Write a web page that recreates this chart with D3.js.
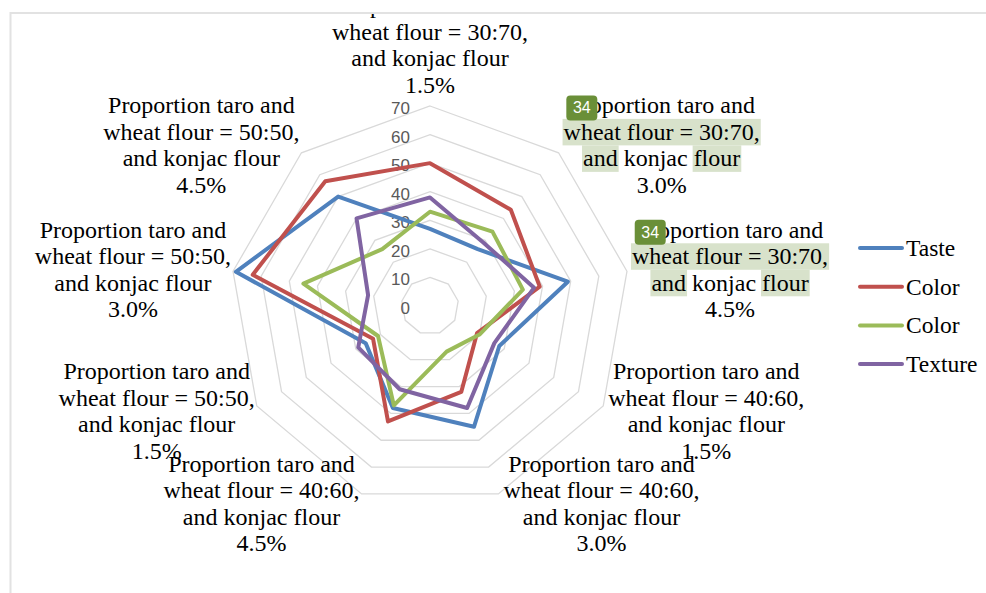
<!DOCTYPE html>
<html>
<head>
<meta charset="utf-8">
<script src="https://cdn.jsdelivr.net/npm/d3@7"></script>
<style>
  html, body { margin: 0; padding: 0; background: #fff; }
  svg { display: block; }
</style>
</head>
<body>
<div id="chart"></div>
<script>
// Chart data
const ratios = ["30:70", "30:70", "30:70", "40:60", "40:60", "40:60", "50:50", "50:50", "50:50"];
const konjac = ["1.5%", "3.0%", "4.5%", "1.5%", "3.0%", "4.5%", "1.5%", "3.0%", "4.5%"];
const seriesNames = ["Taste", "Color", "Color", "Texture"];
const taste   = [27, 26, 49, 28, 45, 38, 26, 69, 50];
const color1  = [50, 44, 39, 19, 32, 43, 23, 63, 57];
const color2  = [33, 34, 33, 20, 17, 37, 21, 45, 26];
const texture = [38, 29, 37, 26, 38, 31, 29, 22, 40];
const tickValues = [0, 10, 20, 30, 40, 50, 60, 70];
const markedCategories = [1, 2]; // labels carrying the green "34" marks
const markText = "34";

const seriesData = [taste, color1, color2, texture];
const seriesColors = ["#4f81bd", "#c0504d", "#9bbb59", "#8064a2"];

const categories = ratios.map((r, i) => [
    "Proportion taro and",
    `wheat flour = ${r},`,
    "and konjac flour",
    konjac[i]
]);

// Set up SVG container
const width = 986, height = 593;
const cx = 430, cy = 306, outerR = 200;
const serif = "'Liberation Serif', 'Times New Roman', serif";
const fontSize = 24, lineH = 26.5;

const svg = d3.select("#chart").append("svg")
    .attr("width", width)
    .attr("height", height);

svg.append("defs").append("clipPath").attr("id", "frame-clip")
    .append("rect").attr("x", 11).attr("y", 14).attr("width", width - 11).attr("height", height - 14);

// chart frame (top and left edges visible)
svg.append("path")
    .attr("d", `M10.5,${height} V13 H${width}`)
    .attr("fill", "none")
    .attr("stroke", "#e2e2e2")
    .attr("stroke-width", 2);

const root = svg.append("g").attr("clip-path", "url(#frame-clip)");

const rScale = d3.scaleLinear().domain([0, 70]).range([0, outerR]);
const angleStep = 2 * Math.PI / categories.length;

const plot = root.append("g").attr("transform", `translate(${cx},${cy})`);

// grid rings
const ringLine = d3.lineRadial()
    .angle((d, i) => i * angleStep)
    .radius(d => rScale(d))
    .curve(d3.curveLinearClosed);

plot.selectAll("path.ring")
    .data(tickValues.filter(v => v > 0))
    .join("path")
    .attr("class", "ring")
    .attr("d", v => ringLine(categories.map(() => v)))
    .attr("fill", "none")
    .attr("stroke", "#d9d9d9")
    .attr("stroke-width", 1.3);

// tick labels
plot.selectAll("text.tick")
    .data(tickValues)
    .join("text")
    .attr("class", "tick")
    .attr("x", -20)
    .attr("y", v => -rScale(v) + 8)
    .attr("text-anchor", "end")
    .attr("font-family", "'Liberation Sans', Arial, sans-serif")
    .attr("font-size", 17)
    .attr("fill", "#595959")
    .text(v => v);

// series lines
plot.selectAll("path.series")
    .data(seriesData)
    .join("path")
    .attr("class", "series")
    .attr("d", d => ringLine(d))
    .attr("fill", "none")
    .attr("stroke", (d, i) => seriesColors[i])
    .attr("stroke-width", 4)
    .attr("stroke-linejoin", "round");

// category labels
const labelLayer = root.append("g");
categories.forEach((lines, i) => {
    const a = i * angleStep;
    const s = Math.sin(a);
    const vx = cx + s * outerR, vy = cy - Math.cos(a) * outerR;
    const g = labelLayer.append("g");
    const hl = g.append("g");
    const text = g.append("text")
        .attr("text-anchor", "middle")
        .attr("font-family", serif)
        .attr("font-size", fontSize)
        .attr("fill", "#000");
    const spans = lines.map(l => text.append("tspan").attr("x", 0).attr("y", 0).text(l));
    const w = text.node().getBBox().width;

    let bx, bcy;
    if (Math.abs(s) < 1e-6) {
        bx = vx;
        bcy = vy - 8 - lines.length * lineH / 2;
    } else if (s > 0) {
        bx = vx + 5 + w / 2;
        bcy = vy + 0.05 * (vy - cy);
    } else {
        bx = vx - 2 - w / 2;
        bcy = vy + 0.05 * (vy - cy);
    }
    const centers = lines.map((l, k) => bcy + (k - (lines.length - 1) / 2) * lineH);
    spans.forEach((sp, k) => sp.attr("x", bx).attr("y", centers[k] + 8));

    if (markedCategories.includes(i)) {
        const hlColor = "#d8e2cb";
        const extent = (sp, from, to) => {
            const n = sp.node();
            return [n.getStartPositionOfChar(from).x, n.getEndPositionOfChar(to - 1).x];
        };
        // whole second line
        const l2 = extent(spans[1], 0, lines[1].length);
        hl.append("rect").attr("x", l2[0] - 1).attr("y", centers[1] - 13)
            .attr("width", l2[1] - l2[0] + 2).attr("height", lineH).attr("fill", hlColor);
        // "and" and "flour" on the third line
        const l3 = lines[2];
        [[0, 3], [l3.indexOf("flour"), l3.length]].forEach(([f, t]) => {
            const e = extent(spans[2], f, t);
            hl.append("rect").attr("x", e[0] - 1).attr("y", centers[2] - 13)
                .attr("width", e[1] - e[0] + 2).attr("height", lineH).attr("fill", hlColor);
        });
        // badge over the start of the first line
        const l1 = extent(spans[0], 0, 1);
        g.append("rect").attr("x", l1[0] - 2).attr("y", centers[0] - 10)
            .attr("width", 31).attr("height", 25).attr("rx", 4)
            .attr("fill", "#6a8f38");
        g.append("text").attr("x", l1[0] + 13.5).attr("y", centers[0] + 8)
            .attr("text-anchor", "middle")
            .attr("font-family", "'Liberation Sans', Arial, sans-serif")
            .attr("font-size", 16)
            .attr("fill", "#fff")
            .text(markText);
    }
});

// legend
const legend = svg.append("g").attr("transform", "translate(858,248)");
const rows = legend.selectAll("g")
    .data(seriesNames)
    .join("g")
    .attr("transform", (d, i) => `translate(0,${i * 38.7})`);
rows.append("line")
    .attr("x1", 2).attr("x2", 44)
    .attr("stroke", (d, i) => seriesColors[i])
    .attr("stroke-width", 4)
    .attr("stroke-linecap", "round");
rows.append("text")
    .attr("x", 48)
    .attr("y", 8)
    .attr("font-family", serif)
    .attr("font-size", 23.5)
    .text(d => d);
</script>
</body>
</html>
